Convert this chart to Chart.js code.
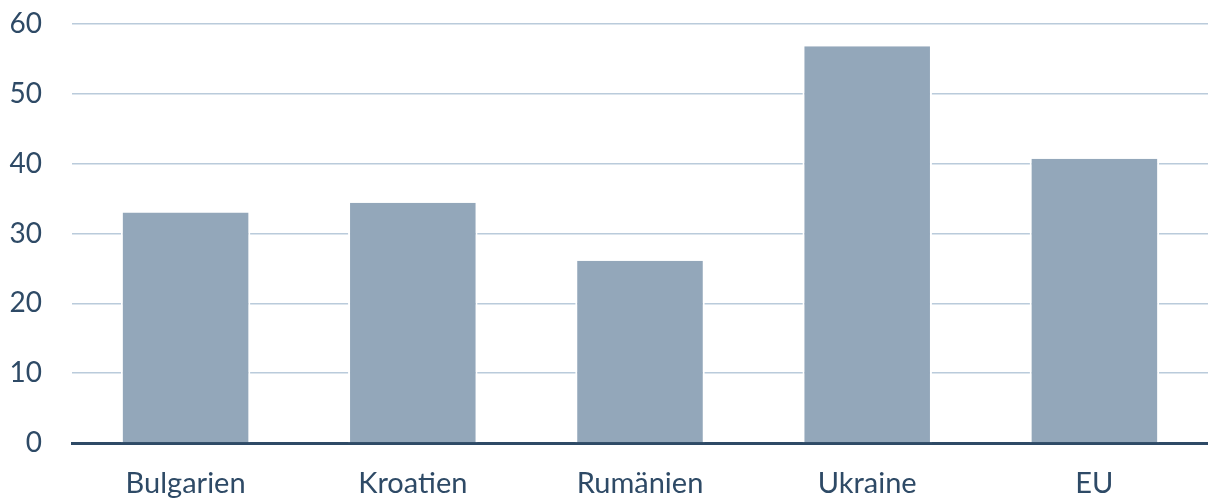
<!DOCTYPE html>
<html>
<head>
<meta charset="utf-8">
<script src="https://cdn.jsdelivr.net/npm/chart.js@4"></script>
<style>
  html, body { margin: 0; padding: 0; background: #fff; }
  #wrap { width: 1208px; height: 498px; position: relative; }
</style>
</head>
<body>
<div id="wrap"><canvas id="myChart"></canvas></div>
<script>
const categories = ['Bulgarien', 'Kroatien', 'Rumänien', 'Ukraine', 'EU'];
const values = [33.0, 34.4, 26.1, 56.8, 40.7];
const yTicks = [0, 10, 20, 30, 40, 50, 60];

const textColor = '#2E4A66';

const ctx = document.getElementById('myChart').getContext('2d');
const chartInstance = new Chart(ctx, {
  type: 'bar',
  data: {
    labels: categories,
    datasets: [{
      data: values,
      backgroundColor: '#93A7BA',
      borderColor: '#ffffff',
      borderWidth: { left: 2, right: 2, top: 0, bottom: 0 },
      borderSkipped: false,
      barPercentage: 0.57,
      categoryPercentage: 1
    }]
  },
  options: {
    responsive: true,
    maintainAspectRatio: false,
    animation: false,
    layout: { padding: { top: 24, right: 0, bottom: 0, left: 0 } },
    plugins: {
      legend: { display: false },
      tooltip: { enabled: false }
    },
    scales: {
      x: {
        grid: { display: false },
        border: { display: true, color: textColor, width: 3 },
        ticks: {
          color: textColor,
          font: { family: 'Lato', size: 29 },
          padding: 15,
          maxRotation: 0
        },
        afterFit: function(scale) {
          scale.height = 55;
          scale.paddingLeft = 0;
          scale.paddingRight = 0;
        }
      },
      y: {
        min: 0,
        max: 60,
        afterBuildTicks: function(scale) {
          scale.ticks = yTicks.map(v => ({ value: v }));
        },
        grid: { color: '#BACBDB', lineWidth: 1.5, drawTicks: false },
        border: { display: false },
        ticks: {
          color: textColor,
          font: { family: 'Lato', size: 28 },
          padding: 30
        },
        afterFit: function(scale) {
          scale.width = 72;
          scale.paddingTop = 0;
          scale.paddingBottom = 0;
        }
      }
    }
  }
});
</script>
</body>
</html>
